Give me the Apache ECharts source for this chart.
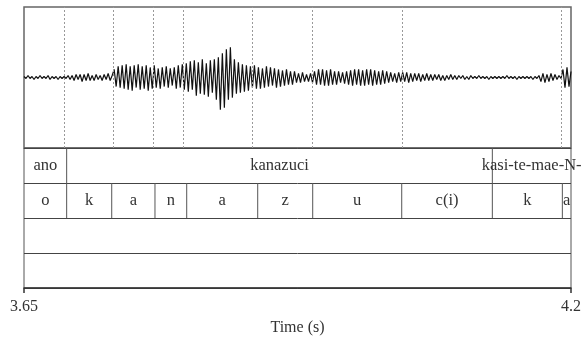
<!DOCTYPE html>
<html>
<head>
<meta charset="utf-8">
<script src="https://cdn.jsdelivr.net/npm/echarts@6/dist/echarts.min.js"></script>
<style>html,body{margin:0;padding:0;background:#fff;}#c{width:584px;height:338px;}</style>
</head>
<body>
<div id="c"></div>
<script>
// Time range (s)
const tStart = 3.65;
const tEnd = 4.2;
const tickLabels = [3.65, 4.2];

// Waveform samples (evenly spaced from tStart to tEnd), amplitude units
const wave = [
  1,-1,2,-1,1,-2,1,-1,2,-1,1,-1,2,-2,1,-1,1,-2,1,-1,
  1,-1,2,-2,2,-3,3,-2,3,-4,3,-3,4,-3,2,-3,3,-2,
  2,-3,3,-2,4,-3,2,
  8,-9,11,-10,12,-11,13,-12,11,-13,12,-10,13,-12,11,-11,12,-13,10,-11,12,
  -10,9,-11,10,-9,11,-10,9,-8,10,-11,12,-10,13,-12,14,
  -14,16,-12,17,-18,15,-16,18,-17,14,-19,17,-15,18,-22,20,-32,24,-30,28,-22,30,-20,18,-16,15,-15,13,-14,12,-13,11,-10,12,-11,
  10,-11,9,-10,11,-9,10,-8,9,-10,8,-9,7,-8,8,-7,6,-7,6,-5,4,-5,5,-4,3,-4,4,-5,
  6,-7,8,-7,8,-8,7,-8,8,-7,6,-7,6,-5,5,-6,6,-7,7,-8,8,-7,8,-8,7,-8,8,-7,8,-8,7,-7,6,-7,7,-6,6,-5,5,-4,4,-5,5,-4,
  5,-4,5,-5,4,-4,4,-3,4,-4,3,-3,4,-3,3,-3,3,-2,3,-3,2,-3,2,-2,3,-2,2,-2,2,-1,2,-2,1,-2,2,-1,1,-1,2,-1,1,-1,1,-2,1,
  -1,1,-1,1,-1,1,-1,2,-1,1,-1,1,-2,1,-1,1,-1,1,-1,1,-2,1,-1,2,
  -4,4,-5,3,-4,4,-3,3,
  -2,2,-1,
  8,-10,10,-9,6
];

// Tier 1: words
const wordStarts = [3.65, 3.6929, 4.1209];
const wordEnds   = [3.6929, 4.1209, 4.2];
const wordLabels = ["ano", "kanazuci", "kasi-te-mae-N-"];

// Tier 2: phones
const phoneStarts = [3.65, 3.6929, 3.7382, 3.7817, 3.8136, 3.885, 3.9403, 4.0298, 4.1209, 4.1913];
const phoneEnds   = [3.6929, 3.7382, 3.7817, 3.8136, 3.885, 3.9403, 4.0298, 4.1209, 4.1913, 4.2];
const phoneLabels = ["o", "k", "a", "n", "a", "z", "u", "c(i)", "k", "a"];

// Dotted guide lines in the waveform panel
const guideTimes = [3.6929, 3.7382, 3.7817, 3.8136, 3.885, 3.9403, 4.0298, 4.1913];

const waveData = wave.map((v, i) => [tStart + i * (tEnd - tStart) / (wave.length - 1), v]);

const intervals = [];
wordLabels.forEach((l, i) => intervals.push([wordStarts[i], wordEnds[i], 0, l]));
phoneLabels.forEach((l, i) => intervals.push([phoneStarts[i], phoneEnds[i], 1, l]));

const FONT = '16.5px "Liberation Serif", "DejaVu Serif", serif';
const chart = echarts.init(document.getElementById('c'), null, {renderer: 'canvas'});
chart.setOption({
  animation: false,
  backgroundColor: '#fff',
  grid: [
    {left: 24, right: 13, top: 7, height: 141, show: true, borderColor: '#666', borderWidth: 1.5, backgroundColor: 'transparent'},
    {left: 24, right: 13, top: 148, height: 140, show: true, borderColor: '#555', borderWidth: 1, backgroundColor: 'transparent'}
  ],
  xAxis: [
    {gridIndex: 0, type: 'value', min: tStart, max: tEnd, show: false},
    {gridIndex: 1, type: 'value', min: tStart, max: tEnd,
      axisLine: {show: true, onZero: false, lineStyle: {color: '#333', width: 1.5}},
      axisTick: {show: true, customValues: tickLabels, length: 5, lineStyle: {color: '#333', width: 1.5}},
      axisLabel: {show: true, customValues: tickLabels, margin: 11, color: '#333', fontFamily: '"Liberation Serif", serif', fontSize: 16,
        formatter: v => String(v), showMinLabel: true, showMaxLabel: true},
      splitLine: {show: false},
      name: 'Time (s)', nameLocation: 'middle', nameGap: 32,
      nameTextStyle: {color: '#333', fontFamily: '"Liberation Serif", serif', fontSize: 16}
    }
  ],
  yAxis: [
    {gridIndex: 0, type: 'value', min: -70, max: 70, show: false},
    {gridIndex: 1, type: 'value', min: 0, max: 4, inverse: true, interval: 1,
      axisLine: {show: false}, axisTick: {show: false}, axisLabel: {show: false},
      splitLine: {show: true, lineStyle: {color: '#444', width: 1}}
    }
  ],
  series: [
    {
      type: 'line', xAxisIndex: 0, yAxisIndex: 0, data: waveData, showSymbol: false,
      lineStyle: {color: '#111', width: 1.2}, z: 3,
      markLine: {
        silent: true, symbol: 'none', label: {show: false},
        lineStyle: {color: '#999', type: [2, 2], width: 1},
        data: guideTimes.map(t => ({xAxis: t}))
      }
    },
    {
      type: 'custom', xAxisIndex: 1, yAxisIndex: 1, data: intervals, clip: false, z: 4,
      renderItem: function (params, api) {
        const s = api.value(0), e = api.value(1), tier = api.value(2);
        const label = intervals[params.dataIndex][3];
        const p0 = api.coord([s, tier]);
        const p1 = api.coord([e, tier + 1]);
        const children = [];
        if (s > tStart) {
          children.push({type: 'line', shape: {x1: p0[0], y1: p0[1], x2: p0[0], y2: p1[1]},
            style: {stroke: '#555', lineWidth: 1}});
        }
        children.push({type: 'text', style: {text: label, x: (p0[0] + p1[0]) / 2, y: (p0[1] + p1[1]) / 2,
          textAlign: 'center', textVerticalAlign: 'middle', font: FONT, fill: '#333'}});
        return {type: 'group', children: children};
      }
    }
  ]
});
</script>
</body>
</html>
